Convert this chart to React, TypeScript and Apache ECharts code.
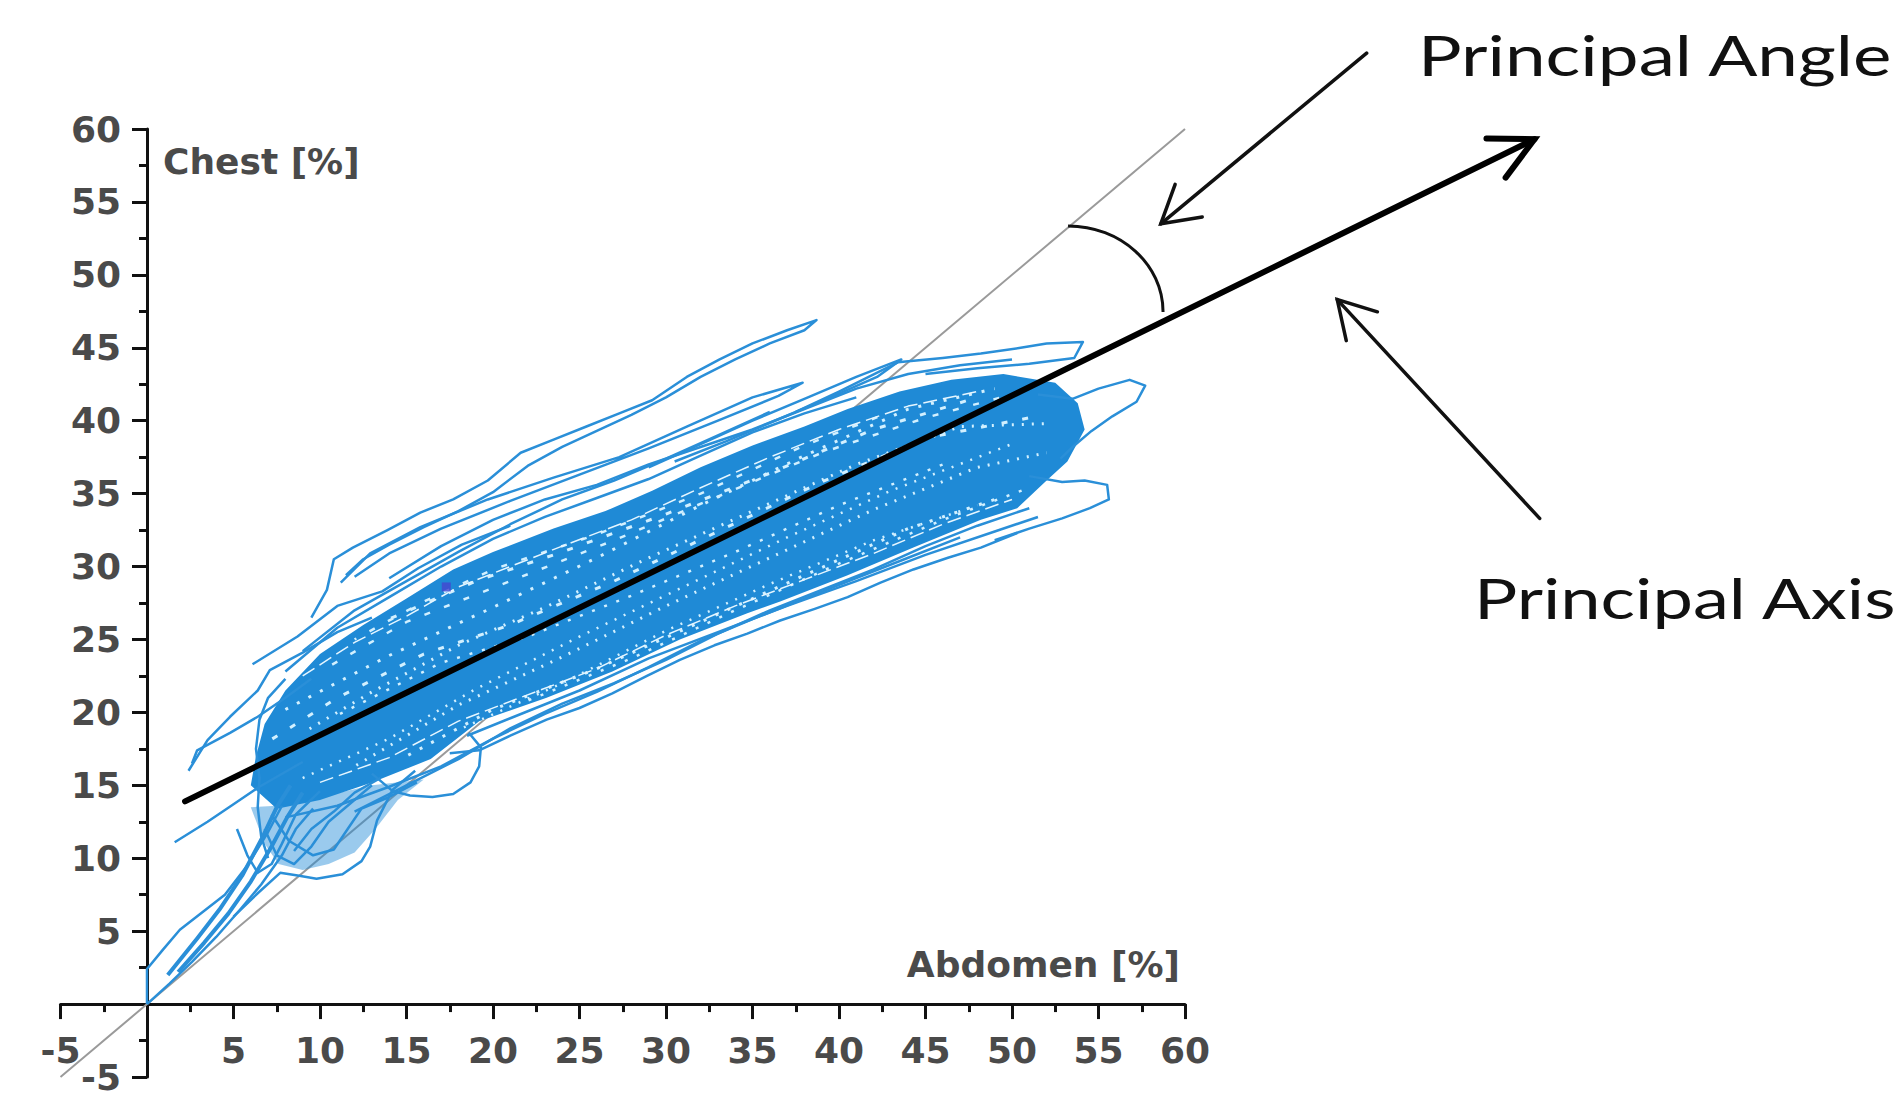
import React, { useEffect, useRef } from "react";
import * as echarts from "echarts";

// ---------- axes ----------
const AXIS_MIN = -5;
const AXIS_MAX = 60;
const AXIS_STEP = 5;
const X_NAME = "Abdomen [%]";
const Y_NAME = "Chest [%]";
const Y_MIN_LABEL = "-5";
const LABEL_ANGLE = "Principal Angle";
const LABEL_AXIS = "Principal Axis";

// ---------- reference lines / annotations (data units) ----------
const IDENTITY_LINE = [[-5, -5], [60, 60]];
const PRINCIPAL_AXIS = [[2.2, 13.9, 80.2, 59.3]];
const POINTER_ARROWS = [
  [70.5, 65.2, 58.6, 53.5],
  [80.5, 33.3, 68.8, 48.3],
];
const ANGLE_ARC_CENTER = [[53.24, 47.46]];
const MARKER_POINT = [[17.3, 28.6]];

// ---------- dense core of the breathing loops ----------
const CORE_OUTLINE = [
  [6.0, 15.0], [6.3, 17.0], [6.8, 19.2], [8.0, 21.5], [10.0, 24.0], [12.5, 26.0], [15.0, 27.8],
  [17.7, 29.8], [20.0, 31.0], [23.5, 32.6], [26.5, 33.8], [29.2, 35.2], [32.0, 36.8], [35.0, 38.3],
  [38.0, 39.6], [40.5, 40.8], [43.5, 42.0], [46.5, 42.8], [49.5, 43.2], [52.5, 42.6], [53.8, 41.2],
  [54.2, 39.4], [53.2, 37.2], [52.0, 35.9], [50.3, 34.0], [48.2, 33.2], [44.3, 31.3], [40.5, 29.4],
  [36.6, 27.6], [34.7, 26.8], [30.8, 25.0], [26.9, 22.8], [23.1, 21.0], [19.2, 19.4], [16.4, 16.8],
  [13.0, 15.2], [10.0, 14.0], [7.5, 13.4],
];
// looser cluster of loops in the lower-left
const LOW_LEFT_PATCH = [
  [6.0, 13.5], [6.8, 11.0], [7.6, 9.6], [9.0, 9.2], [10.5, 9.6], [12.0, 10.4], [13.2, 12.0],
  [14.5, 14.0], [16.0, 15.4], [13.0, 15.0], [10.0, 14.2], [7.5, 13.6],
];

// light speckled gaps inside the core
const GAP_A = [[8, 20.2], [14, 23.9], [20, 27.2], [26, 30.6], [32, 34.2], [38, 37.6], [44, 40.8], [49, 42.2]];
const GAP_B = [[12, 25.0], [16, 27.6], [20, 29.8], [26, 32.2], [32, 35.0], [38, 38.3], [43, 40.6]];
const GAP_C = [[12, 16.3], [18, 20.5], [24, 23.8], [30, 27.3], [36, 30.6], [42, 33.9], [48, 36.8], [52, 37.8]];
const GAP_D = [[22, 20.8], [28, 23.7], [34, 27.0], [40, 30.2], [46, 33.2], [51, 35.4]];
const GAP_E = [[7, 18.0], [11, 21.0], [16, 24.0], [21, 26.0], [27, 29.0], [33, 32.4], [39, 35.8], [45, 38.8], [51, 40.2]];
const GAP_F = [[9, 15.5], [14, 18.2], [19, 21.6], [25, 25.2], [31, 28.6], [37, 32.0], [43, 35.2], [50, 38.4]];
const GAP_G = [[15, 17.0], [20, 20.2], [26, 23.0], [32, 26.2], [38, 29.4], [44, 32.6], [49, 34.6]];
const GAP_H = [[10, 22.8], [15, 26.2], [21, 29.0], [27, 31.8], [33, 34.8], [39, 37.8], [45, 40.2], [50, 41.8]];
const GAP_I = [[9, 18.6], [13, 21.4], [18, 24.6], [23, 27.2], [29, 30.6], [35, 33.8], [41, 37.0], [47, 39.6], [52, 39.8]];
const GAP_J = [[11, 19.8], [17, 23.4], [22, 25.2], [28, 28.0], [34, 31.0], [40, 34.2], [46, 37.0]];
const GAP_K = [[14, 26.4], [19, 29.0], [24, 31.0], [30, 33.6], [36, 36.4], [42, 39.4], [48, 41.6]];
const GAP_L = [[18, 18.8], [24, 22.0], [30, 25.6], [36, 28.8], [42, 31.8], [48, 34.2]];

// thin white seams along the edges of the core
const SEAM_TOP = [
  [9, 22.5], [12, 24.8], [15, 26.6], [18, 28.6], [21, 30.0], [24, 31.4], [28, 33.2], [32, 35.4],
  [36, 37.5], [40, 39.4], [44, 41.0], [48, 42.0],
];
const SEAM_BOTTOM = [
  [10, 15.2], [14, 16.9], [18, 19.4], [22, 21.2], [26, 23.0], [30, 25.3], [34, 27.3], [38, 29.1],
  [42, 30.9], [46, 32.9], [50, 34.6],
];

// ---------- individual loop traces ----------
const TRACE_TOP_LOOP = [
  [9.5, 26.5], [10.4, 28.4], [10.8, 30.5], [11.9, 31.3], [13.9, 32.5], [15.8, 33.7], [17.7, 34.6],
  [19.7, 35.9], [21.6, 37.8], [23.5, 38.7], [25.4, 39.6], [27.3, 40.5], [29.2, 41.4], [31.2, 43.0],
  [33.1, 44.2], [35.0, 45.3], [37.0, 46.2], [38.7, 46.9], [38.0, 46.2], [36.0, 45.3], [34.0, 44.2],
  [32.0, 43.0], [30.0, 41.6], [28.0, 40.4], [26.0, 39.3], [24.0, 38.2], [22.0, 36.9], [20.0, 35.1],
  [18.0, 33.8], [16.0, 32.7], [14.0, 31.5], [12.5, 30.5], [11.5, 29.4],
];
const TRACE_SECOND_LOOP = [
  [11.2, 28.9], [12.9, 30.9], [15.8, 32.7], [19.7, 34.6], [23.5, 36.1], [27.3, 37.5], [31.2, 39.6],
  [35.0, 41.6], [37.9, 42.6], [36.5, 41.7], [33.0, 40.0], [29.0, 38.1], [25.0, 36.3], [21.0, 34.5],
  [17.0, 32.6], [14.0, 30.9], [12.0, 29.3],
];
const TRACE_UPPER_RIGHT = [
  [29.0, 36.8], [32.0, 38.4], [35.0, 40.0], [38.0, 41.5], [41.0, 43.0], [43.6, 44.2], [42.2, 43.0],
  [39.5, 41.6], [36.5, 40.1], [33.5, 38.6], [30.5, 37.2],
];
const TRACE_TOP_RIGHT_EDGE = [
  [37.5, 40.6], [40.0, 42.0], [43.4, 44.0], [46.0, 44.3], [48.2, 44.6], [50.5, 45.0], [52.0, 45.3],
  [54.1, 45.4], [53.6, 44.3], [51.0, 43.9], [48.0, 43.6], [45.0, 43.2],
];
const TRACE_RIGHT_LOOP = [
  [51.5, 41.8], [53.5, 41.5], [55.0, 42.2], [56.8, 42.8], [57.7, 42.4], [57.2, 41.3], [55.8, 40.3],
  [54.6, 39.3], [53.6, 38.3], [52.8, 37.4],
];
const TRACE_LOWER_RIGHT_LOOP = [
  [51.0, 36.2], [52.9, 35.8], [54.2, 35.9], [55.5, 35.6], [55.6, 34.6], [54.5, 34.0], [52.9, 33.3],
  [51.0, 32.6], [49.0, 31.8],
];
const TRACE_LOWER_EDGE = [
  [17.5, 17.2], [19.2, 17.4], [21.0, 18.4], [23.1, 19.5], [25.0, 20.3], [26.9, 21.3], [28.9, 22.5],
  [30.8, 23.6], [32.8, 24.6], [34.7, 25.4], [36.6, 26.3], [38.6, 27.1], [40.5, 27.9], [42.4, 28.9],
  [44.3, 29.8], [46.3, 30.6], [48.2, 31.3], [50.3, 32.3],
];
const TRACE_LOWER_EDGE_2 = [
  [18.5, 18.4], [21.0, 19.6], [25.0, 21.5], [29.0, 23.7], [33.0, 25.5], [37.0, 27.3], [41.0, 29.0],
  [45.0, 30.8], [49.0, 32.4], [51.5, 33.4],
];
const TRACE_BAND_UP_1 = [
  [8, 22.8], [11, 25.8], [14, 27.9], [17, 30.0], [20, 31.9], [23, 33.4], [26, 34.7], [29, 36.0],
  [32, 37.6], [35, 39.2], [38, 40.5], [41, 41.6],
];
const TRACE_BAND_UP_2 = [
  [9, 24.2], [12, 27.0], [15, 29.0], [18, 31.0], [21, 32.9], [24, 34.6], [27, 35.9], [30, 37.4],
  [33, 39.0], [36, 40.6],
];
const TRACE_BAND_UP_3 = [
  [14, 29.2], [17, 31.4], [20, 33.2], [23, 34.6], [26, 35.6], [29, 37.0], [32, 38.2], [35, 39.4],
  [38, 40.8], [41, 42.2], [44, 43.2], [47, 43.8], [50, 44.2],
];
const TRACE_BAND_LOW_1 = [
  [8, 12.8], [11, 13.6], [14, 14.9], [17, 16.3], [20, 18.2], [23, 19.9], [26, 21.4], [29, 23.1],
  [32, 24.9], [35, 26.4], [38, 27.8], [41, 29.2], [44, 30.6], [47, 32.0],
];
const TRACE_BAND_LOW_2 = [
  [12, 13.2], [15, 15.0], [18, 16.8], [21, 18.9], [24, 20.6], [27, 22.0], [30, 23.6], [33, 25.4],
  [36, 27.0], [39, 28.4], [42, 29.8], [45, 31.4], [48, 32.8], [51, 34.0],
];
const TRACE_BOTTOM_LOOP = [
  [5.0, 6.0], [6.4, 7.6], [7.7, 9.0], [8.8, 8.8], [9.8, 8.6], [11.3, 8.9], [12.4, 9.8], [12.9, 10.8],
  [13.3, 12.6], [14.2, 14.7], [15.5, 16.0],
];
const TRACE_MID_LOOP = [
  [13.0, 15.8], [14.2, 14.6], [15.2, 14.3], [16.5, 14.2], [17.7, 14.4], [18.7, 15.2], [19.2, 16.3],
  [19.3, 17.6], [18.6, 18.6],
];
const TRACE_AXIS_TAIL = [
  [0, 0], [0, 2.4], [0.9, 3.7], [1.9, 5.1], [3.2, 6.3], [4.5, 7.5], [5.8, 9.5], [7.0, 11.8], [7.8, 13.6],
];
const TRACE_HATCHED = [[1.2, 2.0], [2.9, 4.5], [4.2, 6.5], [5.5, 8.8], [6.7, 11.5], [7.5, 13.5], [8.3, 15.0]];
const TRACE_HATCHED_2 = [[1.8, 2.2], [3.3, 4.2], [4.7, 6.2], [6.0, 8.4], [7.2, 10.8], [8.1, 12.8], [9.0, 14.5]];
const TRACE_ORIGIN = [
  [0, 0], [1.3, 1.4], [2.6, 2.9], [4.0, 4.6], [5.4, 6.5], [6.6, 8.2], [7.8, 10.2], [8.6, 12.0], [9.6, 13.4],
];
const TRACE_INNER_LOW = [[8.5, 10.5], [9.5, 12.0], [10.8, 13.2], [12.0, 14.5], [13.5, 15.5]];
const TRACE_STRAIGHT = [[1.6, 11.1], [3.5, 12.5], [5.0, 13.7], [6.5, 14.9], [9.0, 16.6]];
const TRACE_UPPER_LEFT = [
  [2.4, 16.0], [3.5, 18.1], [4.8, 19.7], [6.4, 21.5], [7.1, 22.9], [9.0, 24.1], [11.0, 25.5], [13.0, 26.5],
];
const TRACE_UPPER_LEFT_2 = [[2.6, 16.5], [2.9, 17.4], [4.8, 18.6], [6.4, 19.7], [8.0, 21.0], [9.5, 22.3]];
const TRACE_UPPER_OUTLINE = [
  [6.1, 23.3], [8.7, 25.2], [11.0, 27.3], [13.6, 28.3], [15.7, 29.9], [18.2, 31.5], [21.0, 32.8],
];
const TRACE_LEFT_EDGE = [
  [7.0, 10.0], [6.6, 11.5], [6.4, 13.5], [6.5, 15.5], [6.3, 17.5], [6.5, 19.5], [7.0, 21.0], [8.0, 22.3],
];
const TRACE_LOW_LOOP_2 = [
  [6.8, 12.0], [7.5, 10.2], [8.5, 9.6], [9.5, 10.8], [10.5, 12.5], [11.8, 13.8], [13.0, 15.0],
];
const TRACE_LOW_LOOP_3 = [
  [7.2, 13.0], [8.2, 11.2], [9.6, 10.2], [10.8, 10.6], [11.6, 12.0], [12.4, 13.4], [14.0, 14.2],
  [15.6, 15.2],
];
const TRACE_LOW_LOOP_4 = [
  [5.2, 12.0], [5.8, 10.2], [6.4, 9.0], [7.2, 9.6], [7.8, 11.0], [8.6, 13.0], [10.0, 14.6],
];

const TRACES = [
  TRACE_TOP_LOOP, TRACE_SECOND_LOOP, TRACE_UPPER_RIGHT, TRACE_TOP_RIGHT_EDGE, TRACE_RIGHT_LOOP,
  TRACE_LOWER_RIGHT_LOOP, TRACE_LOWER_EDGE, TRACE_LOWER_EDGE_2, TRACE_BAND_UP_1, TRACE_BAND_UP_2,
  TRACE_BAND_UP_3, TRACE_BAND_LOW_1, TRACE_BAND_LOW_2, TRACE_BOTTOM_LOOP, TRACE_MID_LOOP,
  TRACE_AXIS_TAIL, TRACE_ORIGIN, TRACE_INNER_LOW, TRACE_STRAIGHT, TRACE_UPPER_LEFT,
  TRACE_UPPER_LEFT_2, TRACE_UPPER_OUTLINE, TRACE_LEFT_EDGE, TRACE_LOW_LOOP_2, TRACE_LOW_LOOP_3,
  TRACE_LOW_LOOP_4,
];
const HATCHED = [TRACE_HATCHED, TRACE_HATCHED_2];
const GAPS = [GAP_A, GAP_B, GAP_C, GAP_D, GAP_E, GAP_F, GAP_G, GAP_H, GAP_I, GAP_J, GAP_K, GAP_L];
const SEAMS = [SEAM_TOP, SEAM_BOTTOM];

const BLUE = "#1f8ad6";
const TRACE_BLUE = "#2a8fd8";
const AXIS_FONT = "DejaVu Sans";
const AXIS_TEXT = "#4a4a4a";

function chevronArrow(width: number, head: number, spread: number, color: string) {
  return (params: any, api: any) => {
    const a = api.coord([api.value(0), api.value(1)]);
    const b = api.coord([api.value(2), api.value(3)]);
    const ang = Math.atan2(b[1] - a[1], b[0] - a[0]);
    const l = [b[0] - head * Math.cos(ang - spread), b[1] - head * Math.sin(ang - spread)];
    const r = [b[0] - head * Math.cos(ang + spread), b[1] - head * Math.sin(ang + spread)];
    return {
      type: "group",
      children: [
        {
          type: "line",
          shape: { x1: a[0], y1: a[1], x2: b[0], y2: b[1] },
          style: { stroke: color, lineWidth: width, lineCap: "round" },
        },
        {
          type: "polyline",
          shape: { points: [l, b, r] },
          style: { stroke: color, lineWidth: width, fill: null, lineJoin: "miter", lineCap: "round" },
        },
      ],
    };
  };
}

function polygonSeries(points: number[][], fill: string, opacity: number, z: number) {
  return {
    type: "custom",
    coordinateSystem: "cartesian2d",
    data: [points[0]],
    clip: false,
    z,
    silent: true,
    renderItem: (params: any, api: any) => {
      if (params.dataIndex !== 0) return null;
      const pts = points.map((p) => api.coord(p));
      return { type: "polygon", shape: { points: pts }, style: { fill, opacity } };
    },
  };
}

export default function App() {
  const ref = useRef<HTMLDivElement>(null);

  useEffect(() => {
    if (!ref.current) return;
    const chart = echarts.init(ref.current, null, { renderer: "svg" });

    const xTickLabel = (v: number) => (v === 0 ? "" : String(v));
    // the y-axis minimum label is placed separately so it sits beside the axis line
    const yTickLabel = (v: number) => (v === 0 || v === AXIS_MIN ? "" : String(v));

    const series: any[] = [];

    series.push({
      type: "line",
      data: IDENTITY_LINE,
      showSymbol: false,
      clip: false,
      lineStyle: { color: "#9a9a9a", width: 2 },
      z: 1,
      silent: true,
    });

    series.push(polygonSeries(LOW_LEFT_PATCH, BLUE, 0.45, 2));
    series.push(polygonSeries(CORE_OUTLINE, BLUE, 1, 2));

    GAPS.forEach((g, i) => {
      series.push({
        type: "line",
        data: g,
        showSymbol: false,
        clip: false,
        z: 3,
        silent: true,
        lineStyle: {
          color: "#d2f0ff",
          width: i % 2 === 0 ? 3 : 2.5,
          type: i % 3 === 0 ? [3, 10] : i % 3 === 1 ? [6, 15] : [2, 8],
          dashOffset: i * 4,
        },
      });
    });

    SEAMS.forEach((s) => {
      series.push({
        type: "line",
        data: s,
        showSymbol: false,
        clip: false,
        z: 3,
        silent: true,
        lineStyle: { color: "#e6f6ff", width: 1.5, type: [14, 6] },
      });
    });

    TRACES.forEach((t) => {
      series.push({
        type: "line",
        data: t,
        showSymbol: false,
        clip: false,
        z: 4,
        silent: true,
        lineStyle: { color: TRACE_BLUE, width: 2.5, join: "round" },
      });
    });

    HATCHED.forEach((t) => {
      series.push({
        type: "line",
        data: t,
        showSymbol: false,
        clip: false,
        z: 4,
        silent: true,
        lineStyle: { color: TRACE_BLUE, width: 4, join: "round" },
      });
    });

    series.push({
      type: "scatter",
      data: MARKER_POINT,
      symbol: "rect",
      symbolSize: 9,
      itemStyle: { color: "#4545d0" },
      z: 5,
      silent: true,
    });

    series.push({
      type: "custom",
      coordinateSystem: "cartesian2d",
      dimensions: ["x0", "y0", "x1", "y1"],
      encode: { x: [0, 2], y: [1, 3] },
      data: PRINCIPAL_AXIS,
      clip: false,
      z: 6,
      silent: true,
      renderItem: chevronArrow(6, 48, 0.47, "#000000"),
    });

    series.push({
      type: "custom",
      coordinateSystem: "cartesian2d",
      dimensions: ["x0", "y0", "x1", "y1"],
      encode: { x: [0, 2], y: [1, 3] },
      data: POINTER_ARROWS,
      clip: false,
      z: 6,
      silent: true,
      renderItem: chevronArrow(3.5, 42, 0.53, "#111111"),
    });

    series.push({
      type: "custom",
      coordinateSystem: "cartesian2d",
      data: ANGLE_ARC_CENTER,
      clip: false,
      z: 6,
      silent: true,
      renderItem: (params: any, api: any) => {
        const c = api.coord([api.value(0), api.value(1)]);
        const rx = 95;
        const ry = 86;
        return {
          type: "bezierCurve",
          shape: {
            x1: c[0],
            y1: c[1] - ry,
            cpx1: c[0] + 0.552 * rx,
            cpy1: c[1] - ry,
            cpx2: c[0] + rx,
            cpy2: c[1] - 0.552 * ry,
            x2: c[0] + rx,
            y2: c[1],
          },
          style: { stroke: "#111111", lineWidth: 3, fill: null },
        };
      },
    });

    // y-axis minimum label, positioned beside the axis line at value -5
    series.push({
      type: "custom",
      coordinateSystem: "cartesian2d",
      data: [[0, AXIS_MIN]],
      clip: false,
      z: 7,
      silent: true,
      renderItem: (params: any, api: any) => {
        const p = api.coord([api.value(0), api.value(1)]);
        return {
          type: "text",
          x: p[0] - 26,
          y: p[1],
          style: {
            text: Y_MIN_LABEL,
            fontFamily: AXIS_FONT,
            fontSize: 36,
            fontWeight: "bold",
            fill: AXIS_TEXT,
            align: "right",
            verticalAlign: "middle",
          },
        };
      },
    });

    const axisCommon = {
      type: "value",
      min: AXIS_MIN,
      max: AXIS_MAX,
      interval: AXIS_STEP,
      nameMoveOverlap: false,
      axisLine: { show: true, onZero: true, lineStyle: { color: "#111111", width: 3 } },
      axisTick: { show: true, inside: false, length: 15, lineStyle: { color: "#111111", width: 3 } },
      minorTick: { show: true, splitNumber: 2, length: 8, lineStyle: { color: "#111111", width: 3 } },
      splitLine: { show: false },
      minorSplitLine: { show: false },
    };

    const labelFont = { fontFamily: AXIS_FONT, fontSize: 36, fontWeight: "bold", color: AXIS_TEXT };

    chart.setOption({
      animation: false,
      backgroundColor: "#ffffff",
      grid: {
        left: 60.5,
        top: 129,
        width: 1124.5,
        height: 948,
        containLabel: false,
        outerBoundsMode: "none",
      },
      xAxis: {
        ...axisCommon,
        name: X_NAME,
        nameLocation: "end",
        nameGap: -5,
        nameTextStyle: {
          ...labelFont,
          align: "right",
          verticalAlign: "bottom",
          padding: [0, 0, 22, 0],
        },
        axisLabel: { ...labelFont, formatter: xTickLabel, margin: -45 },
      },
      yAxis: {
        ...axisCommon,
        name: Y_NAME,
        nameLocation: "end",
        nameGap: -32,
        nameTextStyle: {
          ...labelFont,
          align: "left",
          verticalAlign: "middle",
          padding: [0, 0, 0, 16],
        },
        axisLabel: { ...labelFont, formatter: yTickLabel, margin: -60.5 },
      },
      graphic: [
        {
          type: "text",
          x: 1418,
          y: 54,
          scaleX: 1.3,
          style: {
            text: LABEL_ANGLE,
            fontFamily: "Lato",
            fontSize: 56,
            fill: "#111111",
            align: "left",
            verticalAlign: "middle",
          },
        },
        {
          type: "text",
          x: 1474,
          y: 597,
          scaleX: 1.29,
          style: {
            text: LABEL_AXIS,
            fontFamily: "Lato",
            fontSize: 56,
            fill: "#111111",
            align: "left",
            verticalAlign: "middle",
          },
        },
      ],
      series,
    });

    return () => chart.dispose();
  }, []);

  return (
    <div
      ref={ref}
      style={{ position: "fixed", left: 0, top: 0, width: "1897px", height: "1098px", background: "#fff" }}
    />
  );
}
